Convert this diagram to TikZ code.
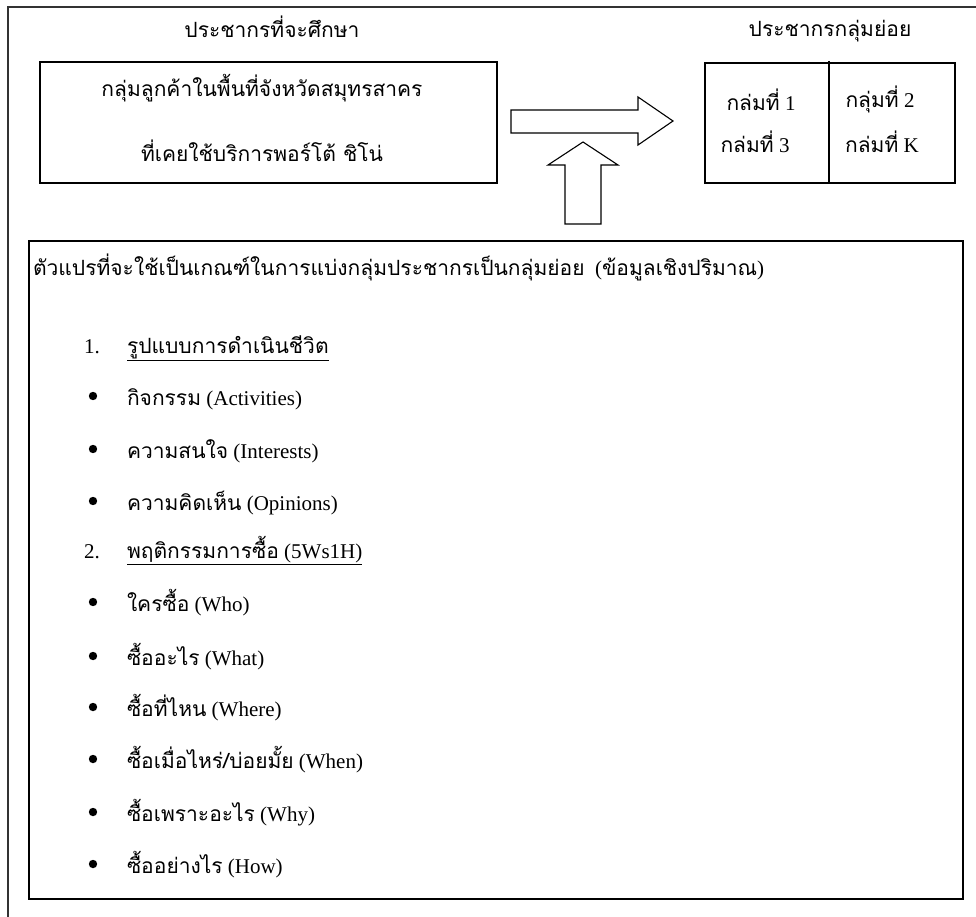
\documentclass[tikz,border=0pt]{standalone}
\usepackage{fontspec}
\setmainfont{Liberation Serif}
\newfontfamily\thaifont[Script=Thai,Scale=1]{Loma}
\begin{document}
\begin{tikzpicture}[x=1pt, y=-1pt,
		every node/.style = {inner sep=0pt, outer sep=0pt, font=\fontsize{21}{25}\selectfont},
		box/.style = {draw, line width=1.1pt},
		txt/.style = {anchor=base},
		item/.style = {anchor=base west},
		blockarrow/.style = {draw, line width=1.1pt, fill=white, line join=miter}]
	\useasboundingbox (0,0) rectangle (976,917);
	\clip (0,0) rectangle (976,917);
	\draw[line width=1.8pt, black!80] (8,930) -- (8,7) -- (990,7);
	% population boxes
	\node[txt] (study) at (272,38) {\thaifont ประชากรที่จะศึกษา};
	\draw[box] (40,62) rectangle (497,183);
	\node[txt] (cust) at (262,97) {\thaifont กลุ่มลูกค้าในพื้นที่จังหวัดสมุทรสาคร};
	\node[txt] (used) at (262,162) {\thaifont ที่เคยใช้บริการพอร์โต้ ชิโน่};
	\node[txt] (sub) at (830,37) {\thaifont ประชากรกลุ่มย่อย};
	\draw[box] (705,63) rectangle (955,183);
	\draw[box] (829,61) -- (829,183);
	\node[txt] (g1) at (761,111) {{\thaifont กล่มที่} 1};
	\node[txt] (g2) at (880,108) {{\thaifont กลุ่มที่} 2};
	\node[txt] (g3) at (755,153) {{\thaifont กล่มที่} 3};
	\node[txt] (gk) at (882,153) {{\thaifont กล่มที่} K};
	% block arrows
	\draw[blockarrow] (511,110) -- (638,110) -- (638,97) -- (673,121) -- (638,145) -- (638,133) -- (511,133) -- cycle;
	\draw[blockarrow] (565,224) -- (565,165) -- (548,165) -- (583,142) -- (618,165) -- (601,165) -- (601,224) -- cycle;
	% variables
	\draw[box, line width=1.4pt] (29,241) rectangle (963,899);
	\node[item] (head) at (33,275) {{\thaifont ตัวแปรที่จะใช้เป็นเกณฑ์ในการแบ่งกลุ่มประชากรเป็นกลุ่มย่อย}\ \ ({\thaifont ข้อมูลเชิงปริมาณ})};
	\node[item] (n1) at (84,353) {1.};
	\node[item] (life) at (127,353) {\underline{\thaifont รูปแบบการดำเนินชีวิต}};
	\node[item] (act) at (127,405) {{\thaifont กิจกรรม} (Activities)};
	\node[item] (int) at (127,458) {{\thaifont ความสนใจ} (Interests)};
	\node[item] (opi) at (127,510) {{\thaifont ความคิดเห็น} (Opinions)};
	\node[item] (n2) at (84,558) {2.};
	\node[item] (buy) at (127,558) {\underline{{\thaifont พฤติกรรมการซื้อ} (5Ws1H)}};
	\node[item] (who) at (127,611) {{\thaifont ใครซื้อ} (Who)};
	\node[item] (what) at (127,665) {{\thaifont ซื้ออะไร} (What)};
	\node[item] (where) at (127,716) {{\thaifont ซื้อที่ไหน} (Where)};
	\node[item] (when) at (127,768) {{\thaifont ซื้อเมื่อไหร่/บ่อยมั้ย} (When)};
	\node[item] (why) at (127,821) {{\thaifont ซื้อเพราะอะไร} (Why)};
	\node[item] (how) at (127,873) {{\thaifont ซื้ออย่างไร} (How)};
	\foreach \y in {405,458,510,611,665,716,768,821,873}
		\fill (93,\y-9) circle (4.2);
\end{tikzpicture}
\end{document}
